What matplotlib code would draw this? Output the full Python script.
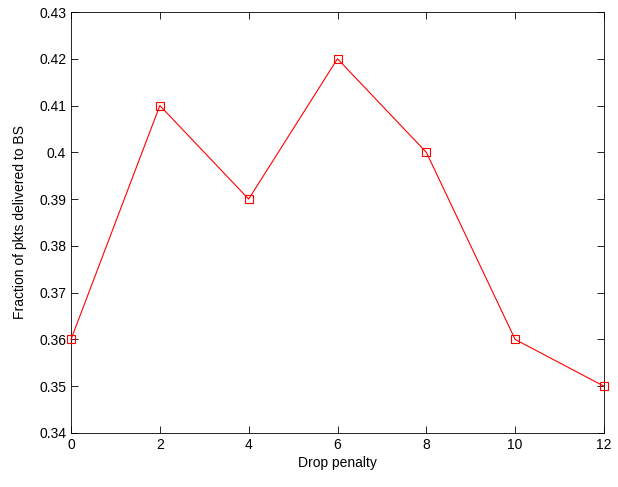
import matplotlib
matplotlib.use('Agg')
import matplotlib.pyplot as plt

drop_penalty = [0, 2, 4, 6, 8, 10, 12]
fraction = [0.36, 0.41, 0.39, 0.42, 0.40, 0.36, 0.35]
yticks = [0.34, 0.35, 0.36, 0.37, 0.38, 0.39, 0.40, 0.41, 0.42, 0.43]
ytick_labels = ['0.34', '0.35', '0.36', '0.37', '0.38', '0.39', '0.4', '0.41', '0.42', '0.43']

plt.rcParams['font.family'] = ['Liberation Sans', 'DejaVu Sans']
plt.rcParams['font.size'] = 10

fig = plt.figure(figsize=(6.18, 4.87), dpi=100)
ax = fig.add_axes([71 / 618, 54 / 487, 533 / 618, 421 / 487])

ax.plot(drop_penalty, fraction, color='red', linewidth=0.8, marker='s',
        markersize=6, markerfacecolor='none', markeredgecolor='red', markeredgewidth=0.8,
        clip_on=False, zorder=3)

ax.set_xlim(0, 12)
ax.set_ylim(0.34, 0.43)
ax.set_xticks(drop_penalty)
ax.set_yticks(yticks)
ax.set_yticklabels(ytick_labels)
ax.tick_params(direction='in', top=True, right=True, length=5, width=0.6)
for s in ax.spines.values():
    s.set_linewidth(0.6)

ax.set_xlabel('Drop penalty', labelpad=3)
ax.set_ylabel('Fraction of pkts delivered to BS', labelpad=9)

fig.savefig('out.png', dpi=100)
